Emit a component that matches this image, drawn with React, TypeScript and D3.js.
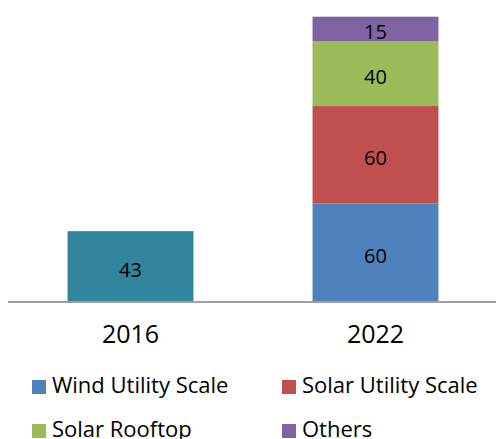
import React from "react";
import * as d3 from "d3";

const categories = ["2016", "2022"];
const seriesNames = ["Total 2016", "Wind Utility Scale", "Solar Utility Scale", "Solar Rooftop", "Others"];
const values2016 = [43, 0, 0, 0, 0];
const values2022 = [0, 60, 60, 40, 15];
const seriesColors = ["#31859C", "#4F81BD", "#C0504D", "#9BBB59", "#8064A2"];
const legendNames = ["Wind Utility Scale", "Solar Utility Scale", "Solar Rooftop", "Others"];
const legendColors = ["#4F81BD", "#C0504D", "#9BBB59", "#8064A2"];

const W = 496;
const H = 439;
const FONT = "'Open Sans', 'Noto Sans', sans-serif";

export default function App() {
  const rows = categories.map((c, i) => {
    const vals = i === 0 ? values2016 : values2022;
    const r: any = { cat: c };
    seriesNames.forEach((s, j) => (r[s] = vals[j]));
    return r;
  });
  const stacked = d3.stack().keys(seriesNames)(rows);
  const x = d3
    .scaleBand()
    .domain(categories)
    .range([8, 498])
    .paddingInner(0.486)
    .paddingOuter(0.243);
  const y = d3.scaleLinear().domain([0, 175]).range([301, 16.7]);

  return (
    <svg
      width={W}
      height={H}
      style={{ position: "absolute", left: 0, top: 0, background: "#fff" }}
      fontFamily={FONT}
    >
      {stacked.map((layer, li) =>
        layer.map((d, di) => {
          const v = d[1] - d[0];
          if (v <= 0) return null;
          const cat = categories[di];
          const x0 = x(cat)!;
          const yTop = y(d[1]);
          const yBot = y(d[0]);
          return (
            <g key={`${li}-${di}`}>
              <rect x={x0} y={yTop} width={x.bandwidth()} height={yBot - yTop} fill={seriesColors[li]} />
              <text
                x={x0 + x.bandwidth() / 2}
                y={(yTop + yBot) / 2 + 3}
                textAnchor="middle"
                dominantBaseline="central"
                fontSize={20}
                fill="#000"
              >
                {v}
              </text>
            </g>
          );
        })
      )}
      <line x1={8} x2={W} y1={302} y2={302} stroke="#A0A0A0" strokeWidth={2} />
      {categories.map((c) => (
        <text
          key={c}
          x={x(c)! + x.bandwidth() / 2}
          y={343}
          textAnchor="middle"
          fontSize={25}
          fill="#000"
        >
          {c}
        </text>
      ))}
      {legendNames.map((n, i) => {
        const col = i % 2;
        const row = Math.floor(i / 2);
        const mx = col === 0 ? 32 : 282;
        const ty = 393 + row * 44;
        return (
          <g key={n}>
            <rect x={mx} y={ty - 13} width={14} height={14} fill={legendColors[i]} />
            <text x={mx + 20} y={ty} fontSize={22} fill="#000">
              {n}
            </text>
          </g>
        );
      })}
    </svg>
  );
}
